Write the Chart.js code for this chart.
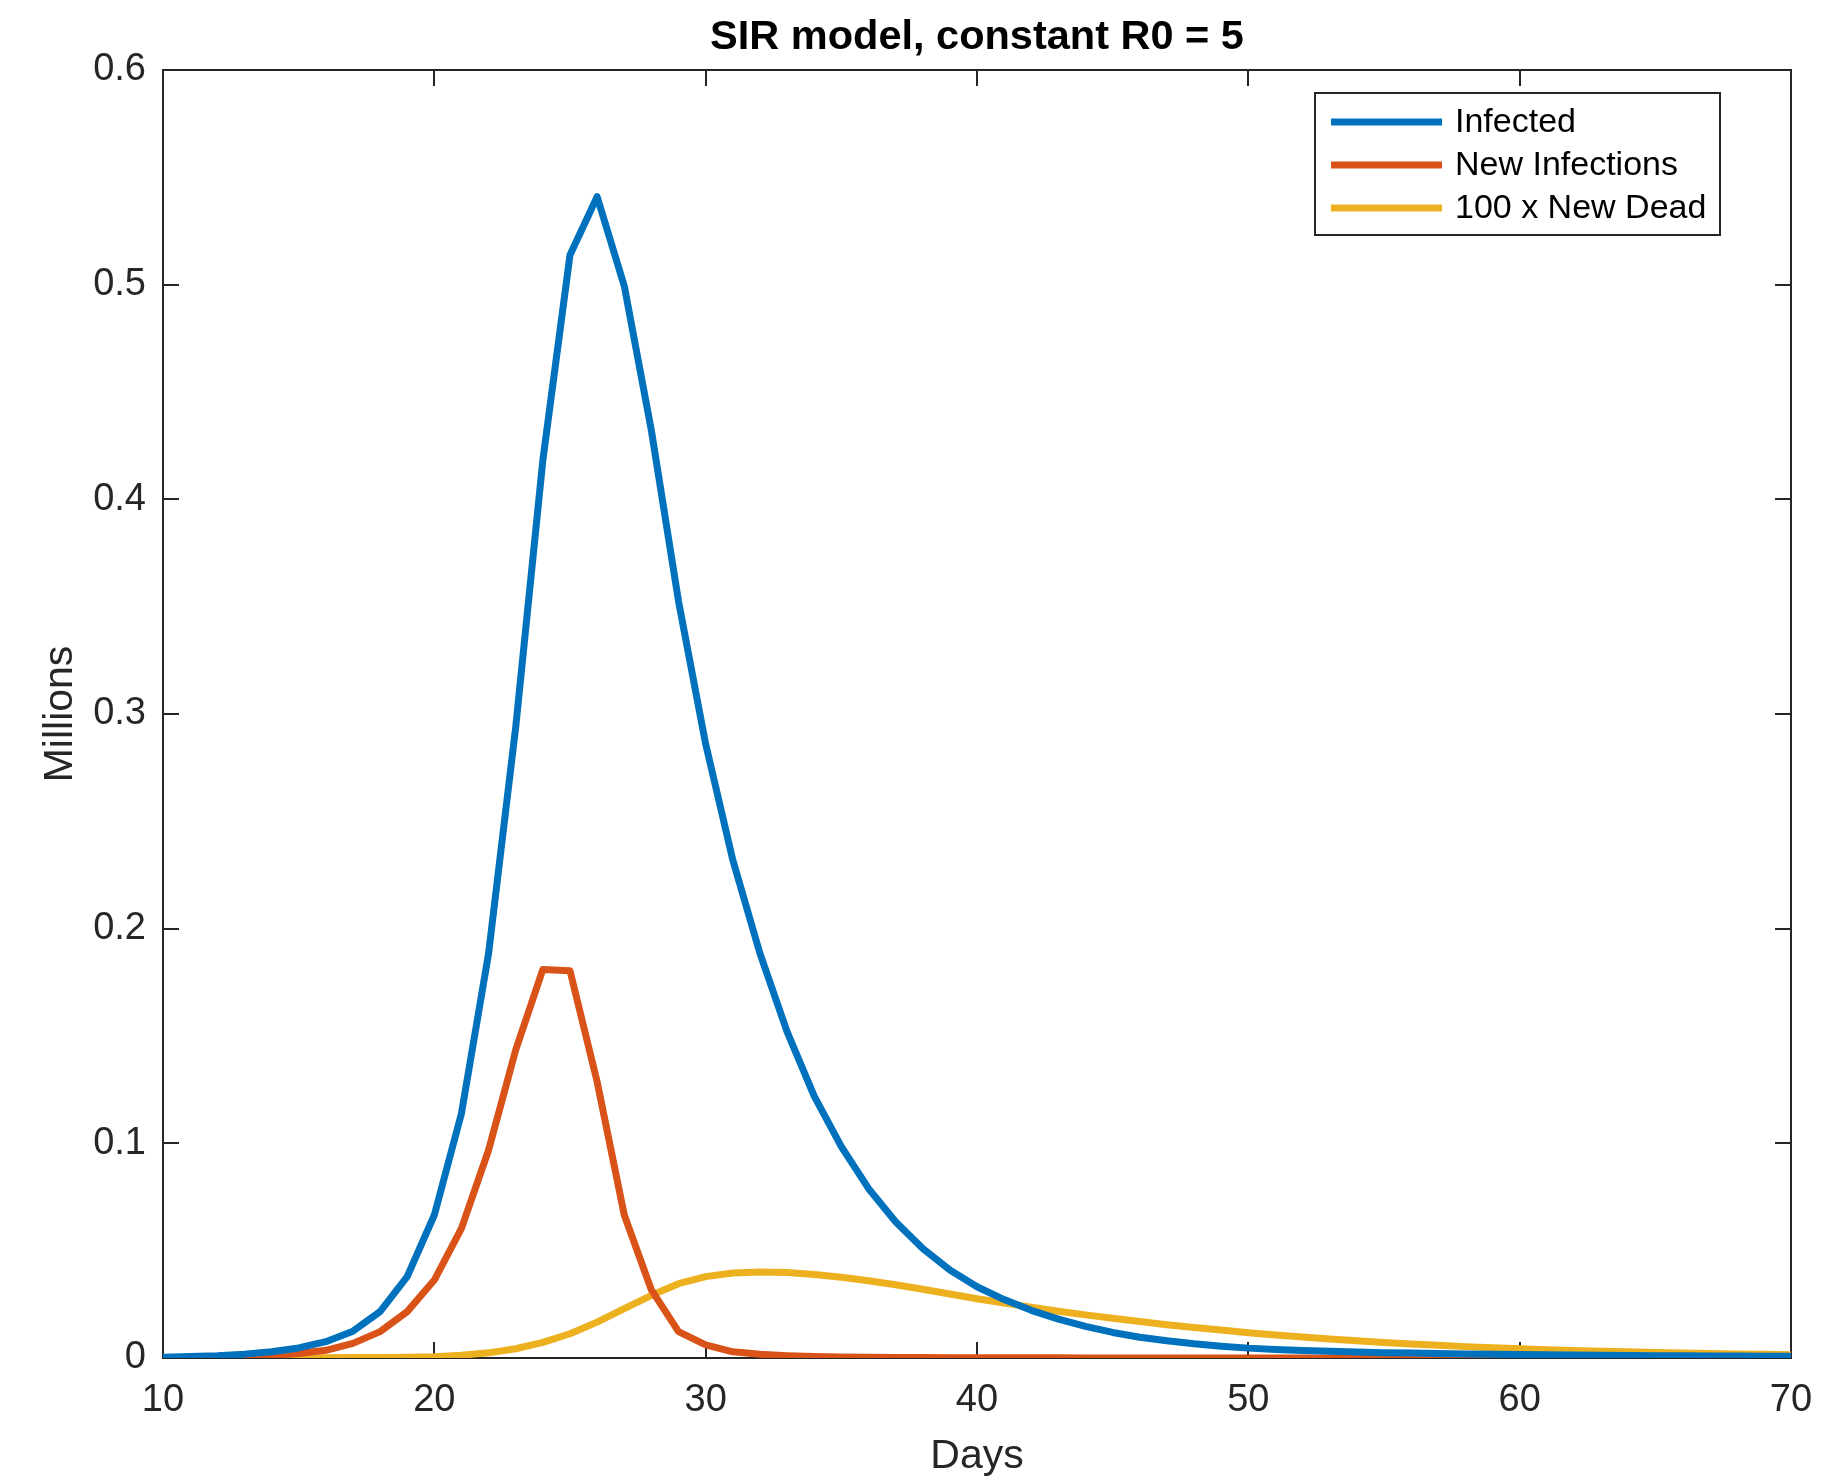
<!DOCTYPE html>
<html>
<head>
<meta charset="utf-8">
<script src="https://cdn.jsdelivr.net/npm/chart.js@4/dist/chart.umd.min.js"></script>
<style>
  html, body { margin: 0; padding: 0; background: #fff; }
  #sir-chart { display: block; }
</style>
</head>
<body>
<canvas id="sir-chart" width="1823" height="1476"></canvas>
<script>
const days = [10, 11, 12, 13, 14, 15, 16, 17, 18, 19,
              20, 21, 22, 23, 24, 25, 26, 27, 28, 29,
              30, 31, 32, 33, 34, 35, 36, 37, 38, 39,
              40, 41, 42, 43, 44, 45, 46, 47, 48, 49,
              50, 51, 52, 53, 54, 55, 56, 57, 58, 59,
              60, 61, 62, 63, 64, 65, 66, 67, 68, 69, 70];

// millions
const infected = [0.0004, 0.0007, 0.0011, 0.0018, 0.0029, 0.0047, 0.0076, 0.0125, 0.0216, 0.0379,
                  0.0666, 0.1140, 0.1885, 0.2940, 0.4183, 0.5138, 0.5410, 0.4994, 0.4320, 0.3525,
                  0.2860, 0.2320, 0.1885, 0.1520, 0.1220, 0.0985, 0.0790, 0.0635, 0.0510, 0.0410,
                  0.0332, 0.0272, 0.0222, 0.0181, 0.0147, 0.0119, 0.0097, 0.0080, 0.0066, 0.0055,
                  0.0046, 0.0040, 0.0035, 0.0031, 0.0028, 0.0025, 0.0023, 0.0021, 0.0019, 0.0018,
                  0.0016, 0.0015, 0.0014, 0.0013, 0.0012, 0.0011, 0.0010, 0.0009, 0.0009, 0.0008, 0.0008];

const newInfections = [0.0001, 0.0002, 0.0004, 0.0007, 0.0012, 0.0021, 0.0036, 0.0068, 0.0123, 0.0216,
                       0.0363, 0.0604, 0.0969, 0.1435, 0.1810, 0.1804, 0.1287, 0.0666, 0.0317, 0.0123,
                       0.0061, 0.0029, 0.0017, 0.0011, 0.0007, 0.0005, 0.0003, 0.0002, 0.0002, 0.0001,
                       0.0001, 0.0001, 0.0001, 0.0001, 0.0000, 0.0000, 0.0000, 0.0000, 0.0000, 0.0000,
                       0.0000, 0.0000, 0.0000, 0.0000, 0.0000, 0.0000, 0.0000, 0.0000, 0.0000, 0.0000,
                       0.0000, 0.0000, 0.0000, 0.0000, 0.0000, 0.0000, 0.0000, 0.0000, 0.0000, 0.0000, 0.0000];

// 100 x new dead
const newDead = [0.0000, 0.0000, 0.0000, 0.0000, 0.0001, 0.0001, 0.0001, 0.0002, 0.0002, 0.0003,
                 0.0006, 0.0013, 0.0024, 0.0043, 0.0073, 0.0113, 0.0167, 0.0230, 0.0292, 0.0346,
                 0.0379, 0.0396, 0.0401, 0.0398, 0.0389, 0.0376, 0.0360, 0.0341, 0.0320, 0.0298,
                 0.0276, 0.0256, 0.0237, 0.0218, 0.0201, 0.0185, 0.0170, 0.0155, 0.0142, 0.0130,
                 0.0118, 0.0107, 0.0098, 0.0088, 0.0080, 0.0072, 0.0065, 0.0059, 0.0053, 0.0048,
                 0.0043, 0.0039, 0.0035, 0.0032, 0.0029, 0.0026, 0.0023, 0.0021, 0.0019, 0.0017, 0.0015];

const seriesNames = ['Infected', 'New Infections', '100 x New Dead'];
const seriesColors = ['#0072BD', '#D95319', '#EDB120'];
const xTicks = [10, 20, 30, 40, 50, 60, 70];
const yTicks = [0, 0.1, 0.2, 0.3, 0.4, 0.5, 0.6];

const FONT = '"Liberation Sans", Arial, Helvetica, sans-serif';
const AXIS_COLOR = '#262626';
const LINE_W = 7;

function toPoints(values){
    return values.map((v, i) => ({x: days[i], y: v}));
}

// box round the axes + inward ticks on all four sides
const matlabAxes = {
    id: 'matlabAxes',
    beforeDatasetsDraw(chart){
        const ctx = chart.ctx;
        const area = chart.chartArea;
        const xs = chart.scales.x;
        const ys = chart.scales.y;
        const len = 16;
        ctx.save();
        ctx.strokeStyle = AXIS_COLOR;
        ctx.lineWidth = 2;
        ctx.beginPath();
        xTicks.forEach(t => {
            const px = Math.round(xs.getPixelForValue(t));
            ctx.moveTo(px, area.bottom); ctx.lineTo(px, area.bottom - len);
            ctx.moveTo(px, area.top); ctx.lineTo(px, area.top + len);
        });
        yTicks.forEach(t => {
            const py = Math.round(ys.getPixelForValue(t));
            ctx.moveTo(area.left, py); ctx.lineTo(area.left + len, py);
            ctx.moveTo(area.right, py); ctx.lineTo(area.right - len, py);
        });
        ctx.stroke();
        ctx.strokeRect(area.left, area.top, area.right - area.left, area.bottom - area.top);
        ctx.restore();
    }
};

// legend box in the upper right corner
const boxLegend = {
    id: 'boxLegend',
    afterDraw(chart){
        const ctx = chart.ctx;
        const left = 1315, top = 93, right = 1720, bottom = 235;
        ctx.save();
        ctx.fillStyle = '#ffffff';
        ctx.fillRect(left, top, right - left, bottom - top);
        ctx.strokeStyle = AXIS_COLOR;
        ctx.lineWidth = 2;
        ctx.strokeRect(left, top, right - left, bottom - top);
        ctx.font = '34px ' + FONT;
        ctx.textBaseline = 'middle';
        ctx.textAlign = 'left';
        chart.data.datasets.forEach((ds, i) => {
            const y = 122 + i * 43;
            ctx.strokeStyle = ds.borderColor;
            ctx.lineWidth = LINE_W;
            ctx.beginPath();
            ctx.moveTo(1331, y);
            ctx.lineTo(1442, y);
            ctx.stroke();
            ctx.fillStyle = '#000000';
            ctx.fillText(ds.label, 1455, y + 1);
        });
        ctx.restore();
    }
};

const data = {
    datasets: [
        {label: seriesNames[0], data: toPoints(infected), borderColor: seriesColors[0]},
        {label: seriesNames[1], data: toPoints(newInfections), borderColor: seriesColors[1]},
        {label: seriesNames[2], data: toPoints(newDead), borderColor: seriesColors[2]}
    ].map(ds => Object.assign(ds, {
        borderWidth: LINE_W,
        pointRadius: 0,
        tension: 0,
        fill: false,
        borderJoinStyle: 'round'
    }))
};

const config = {
    type: 'line',
    data,
    options: {
        responsive: false,
        animation: false,
        devicePixelRatio: 1,
        layout: { padding: {left: 0, right: 32, top: 0, bottom: 0} },
        plugins: {
            legend: { display: false },
            tooltip: { enabled: false },
            title: {
                display: true,
                text: 'SIR model, constant R0 = 5',
                color: '#000000',
                fullSize: false,
                font: { family: FONT, size: 41.5, weight: 'bold', lineHeight: 1.2 },
                padding: { top: 12.6, bottom: 7.6 }
            }
        },
        scales: {
            x: {
                type: 'linear',
                min: 10,
                max: 70,
                afterFit: s => { s.height = 118; s.paddingLeft = 0; s.paddingRight = 0; },
                afterBuildTicks: s => { s.ticks = xTicks.map(v => ({value: v})); },
                grid: { display: false, drawTicks: false },
                border: { display: false },
                ticks: {
                    color: AXIS_COLOR,
                    padding: 20,
                    maxRotation: 0,
                    autoSkip: false,
                    font: { family: FONT, size: 38 }
                },
                title: {
                    display: true,
                    text: 'Days',
                    color: AXIS_COLOR,
                    font: { family: FONT, size: 41 },
                    padding: { top: 0, bottom: -5 }
                }
            },
            y: {
                min: 0,
                max: 0.6,
                afterFit: s => { s.width = 163; s.paddingTop = 0; s.paddingBottom = 0; },
                afterBuildTicks: s => { s.ticks = yTicks.map(v => ({value: v})); },
                grid: { display: false, drawTicks: false },
                border: { display: false },
                ticks: {
                    color: AXIS_COLOR,
                    padding: 17,
                    autoSkip: false,
                    font: { family: FONT, size: 38 },
                    callback: v => String(+v.toFixed(1))
                },
                title: {
                    display: true,
                    text: 'Millions',
                    color: AXIS_COLOR,
                    font: { family: FONT, size: 41 },
                    padding: { top: 36, bottom: 0 }
                }
            }
        }
    },
    plugins: [matlabAxes, boxLegend]
};

var myChart = new Chart(
    document.getElementById('sir-chart').getContext('2d'),
    config
);
</script>
</body>
</html>
